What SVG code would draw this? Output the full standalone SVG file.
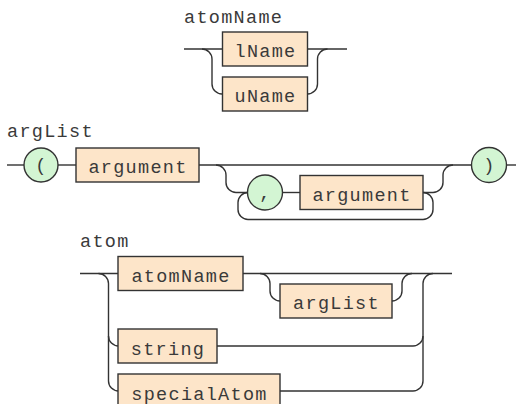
<svg xmlns="http://www.w3.org/2000/svg" width="516" height="404" viewBox="0 0 516 404">
  <style>
    .rail { fill: none; stroke: #333; stroke-width: 1.4; }
    .nt rect { fill: #fde5c9; stroke: #333; stroke-width: 1.4; }
    .t circle { fill: #d3f5d3; stroke: #333; stroke-width: 1.4; }
    text { font-family: "Liberation Mono", "Courier New", monospace; font-size: 18.5px; letter-spacing: 1.3px; fill: #3a3a3a; }
    .nt text, .t text { text-anchor: middle; }
  </style>
  <rect width="516" height="404" fill="#fff"/>

  <!-- rule titles -->
  <text id="title-atomName" x="184" y="22.5">atomName</text>
  <text id="title-argList" x="7" y="136.5">argList</text>
  <text id="title-atom" x="80" y="246.5">atom</text>

  <!-- connectors -->
  <g id="connectors">
    <!-- atomName: choice lName | uName -->
    <path class="rail" d="M184 49 H222.5"/>
    <path class="rail" d="M307.5 49 H347"/>
    <path class="rail" d="M202 49 a10 10 0 0 1 10 10 V84 a10 10 0 0 0 10 10 H222.5"/>
    <path class="rail" d="M307.5 94 a10 10 0 0 0 10 -10 V59 a10 10 0 0 1 10 -10"/>

    <!-- argList: "(" argument { "," argument } ")" -->
    <path class="rail" d="M7 165 H24"/>
    <path class="rail" d="M58 165 H76"/>
    <path class="rail" d="M199 165 H471.5"/>
    <path class="rail" d="M506.5 165 H516"/>
    <path class="rail" d="M216 165 a10 10 0 0 1 10 10 V182.5 a10 10 0 0 0 10 10 H247.5"/>
    <path class="rail" d="M282.5 192.5 H300"/>
    <path class="rail" d="M248 192.5 a10 10 0 0 0 -10 10 V209.5 a10 10 0 0 0 10 10 H423 a10 10 0 0 0 10 -10 V202.5 a10 10 0 0 0 -10 -10"/>
    <path class="rail" d="M423 192.5 H433 a10 10 0 0 0 10 -10 V175 a10 10 0 0 1 10 -10"/>

    <!-- atom: atomName [argList] | string | specialAtom -->
    <path class="rail" d="M80 273.5 H118"/>
    <path class="rail" d="M243 273.5 H452"/>
    <path class="rail" d="M98.5 273.5 a10 10 0 0 1 10 10 V381 a10 10 0 0 0 10 10"/>
    <path class="rail" d="M108.5 336 a10 10 0 0 0 10 10"/>
    <path class="rail" d="M260 273.5 a10 10 0 0 1 10 10 V291 a10 10 0 0 0 10 10"/>
    <path class="rail" d="M392 301 a10 10 0 0 0 10 -10 V283.5 a10 10 0 0 1 10 -10"/>
    <path class="rail" d="M217 346 H413 a10 10 0 0 0 10 -10"/>
    <path class="rail" d="M280 391 H413 a10 10 0 0 0 10 -10 V283.5 a10 10 0 0 1 10 -10"/>
  </g>

  <!-- atomName nodes -->
  <g id="lName" class="nt">
    <rect x="222.5" y="32" width="85" height="34"/>
    <text x="265.5" y="57">lName</text>
  </g>
  <g id="uName" class="nt">
    <rect x="222.5" y="77" width="85" height="34"/>
    <text x="265.5" y="102">uName</text>
  </g>

  <!-- argList nodes -->
  <g id="lparen" class="t">
    <circle cx="41" cy="165" r="17"/>
    <text x="41.5" y="171">(</text>
  </g>
  <g id="argument1" class="nt">
    <rect x="76" y="148" width="123" height="34"/>
    <text x="138" y="173">argument</text>
  </g>
  <g id="comma" class="t">
    <circle cx="265" cy="192.5" r="17.5"/>
    <text x="265.5" y="199">,</text>
  </g>
  <g id="argument2" class="nt">
    <rect x="300" y="175.5" width="123" height="34"/>
    <text x="362" y="200.5">argument</text>
  </g>
  <g id="rparen" class="t">
    <circle cx="489" cy="165" r="17.5"/>
    <text x="489.5" y="171">)</text>
  </g>

  <!-- atom nodes -->
  <g id="atomName" class="nt">
    <rect x="118" y="256.5" width="125" height="34"/>
    <text x="181" y="281.5">atomName</text>
  </g>
  <g id="argList" class="nt">
    <rect x="280" y="284" width="112" height="34"/>
    <text x="336.5" y="309">argList</text>
  </g>
  <g id="string" class="nt">
    <rect x="118" y="329" width="99" height="34"/>
    <text x="168" y="354.5">string</text>
  </g>
  <g id="specialAtom" class="nt">
    <rect x="118" y="374" width="162" height="34"/>
    <text x="199.5" y="399.5">specialAtom</text>
  </g>
</svg>
